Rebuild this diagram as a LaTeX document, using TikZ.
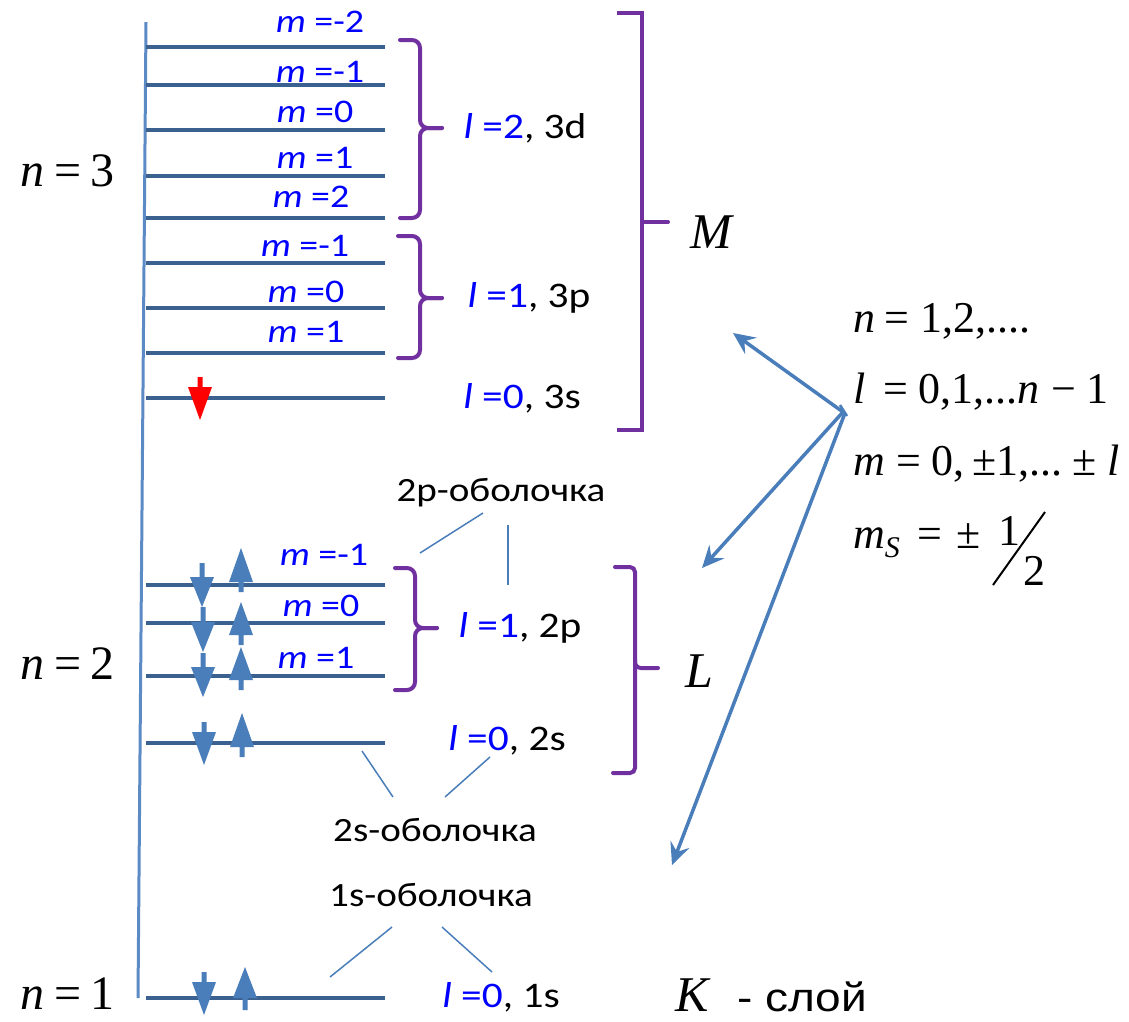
\documentclass[tikz,border=0pt]{standalone}
\usepackage{fontspec}
\setmainfont{Liberation Serif}
\newfontfamily\calfont{Carlito}
\newfontfamily\arialfont{Liberation Sans}
\usetikzlibrary{arrows.meta}
\definecolor{lvlc}{HTML}{3B6190}
\definecolor{axisc}{HTML}{5B8AC4}
\definecolor{spinc}{HTML}{4A7EBB}
\definecolor{conc}{HTML}{4A7EBB}
\definecolor{purp}{HTML}{7030A0}
\definecolor{myblue}{HTML}{0000FF}
\newcommand{\spindown}[5][spinc]{\fill[#1] (#2-2.5,#3) -- (#2+2.5,#3) -- (#2+2.5,#4) -- (#2+12,#4) -- (#2,#5) -- (#2-12,#4) -- (#2-2.5,#4) -- cycle;}
\newcommand{\spinup}[4]{\fill[spinc] (#1-2.5,#2) -- (#1+2.5,#2) -- (#1+2.5,#3) -- (#1+12,#3) -- (#1,#4) -- (#1-12,#3) -- (#1-2.5,#3) -- cycle;}
\newcommand{\cbrace}[6]{% xl, ytop, ybot, xv, xt, ymid
  \draw[bracestyle, rounded corners=8pt] (#1,#2) -- (#4,#2) -- (#4,#6) -- (#5,#6);
  \draw[bracestyle, rounded corners=8pt] (#1,#3) -- (#4,#3) -- (#4,#6) -- (#5,#6);}
\begin{document}
\begin{tikzpicture}[x=1pt,y=-1pt,
  lvl/.style={draw=lvlc, line width=3.5pt},
  bracestyle/.style={draw=purp, line width=4pt, line cap=round},
  conn/.style={draw=conc, line width=1.5pt},
  bigarr/.style={draw=conc, line width=3.5pt, -{Stealth[length=22pt,width=20pt,inset=8pt]}},
  mlab/.style={font=\calfont\fontsize{33}{36}\selectfont, text=myblue, xscale=1.15, inner sep=0pt},
  llab/.style={font=\calfont\fontsize{36}{40}\selectfont, text=black, xscale=1.15, inner sep=0pt},
  shlab/.style={font=\calfont\fontsize{34}{38}\selectfont, text=black, xscale=1.15, inner sep=0pt},
  tlab/.style={font=\fontsize{44}{48}\selectfont, text=black, inner sep=0pt, anchor=base west, text depth=0pt},
  nlab/.style={font=\fontsize{48}{52}\selectfont, text=black, inner sep=0pt, anchor=base west, text depth=0pt},
  biglet/.style={font=\fontsize{50}{54}\selectfont\itshape, text=black, inner sep=0pt, anchor=base west, text depth=0pt},
]
\useasboundingbox (0,0) rectangle (1129,1021);
\fill[white] (0,0) rectangle (1129,1021);

% axis
\draw[draw=axisc, line width=3pt] (146,22) -- (138,998);

% levels
\foreach \y in {47,85,130,176,218,263,308,353,398,585,623,676,743,998}
  \draw[lvl] (146,\y) -- (385,\y);

% m labels
\node[mlab] (m3dA) at (320,22) {{\itshape m} =-2};
\node[mlab] (m3dB) at (320,72) {{\itshape m} =-1};
\node[mlab] (m3dC) at (315,112) {{\itshape m} =0};
\node[mlab] (m3dD) at (315,158) {{\itshape m} =1};
\node[mlab] (m3dE) at (311,197) {{\itshape m} =2};
\node[mlab] (m3pA) at (305,246) {{\itshape m} =-1};
\node[mlab] (m3pB) at (306,292) {{\itshape m} =0};
\node[mlab] (m3pC) at (306,332) {{\itshape m} =1};
\node[mlab] (m2pA) at (324,555) {{\itshape m} =-1};
\node[mlab] (m2pB) at (321,606) {{\itshape m} =0};
\node[mlab] (m2pC) at (316,658) {{\itshape m} =1};

% l labels
\node[llab] (l3d) at (525,128) {\textcolor{myblue}{{\itshape l} =2}, 3d};
\node[llab] (l3p) at (529,298) {\textcolor{myblue}{{\itshape l} =1}, 3p};
\node[llab] (l3s) at (522,398) {\textcolor{myblue}{{\itshape l} =0}, 3s};
\node[llab] (l2p) at (520,628) {\textcolor{myblue}{{\itshape l} =1}, 2p};
\node[llab] (l2s) at (507,740) {\textcolor{myblue}{{\itshape l} =0}, 2s};
\node[llab] (l1s) at (501,997) {\textcolor{myblue}{{\itshape l} =0}, 1s};

% braces
\cbrace{400}{40}{218}{420}{442}{128}
\cbrace{398}{236}{358}{420}{442}{298}
\cbrace{395}{568}{690}{415}{437}{628}
\draw[bracestyle, line cap=butt] (617,13) -- (642,13) -- (642,430) -- (617,430);
\draw[bracestyle] (642,222) -- (668,222);
\draw[bracestyle, rounded corners=5pt] (615,567) -- (635,567) -- (635,773) -- (613,773);
\draw[bracestyle, rounded corners=6pt] (635,660) -- (635,668) -- (658,668);

% shell labels and connectors
\node[shlab] (sh2p) at (501,493) {2p-оболочка};
\node[shlab] (sh2s) at (435,830) {2s-оболочка};
\node[shlab] (sh1s) at (431,895) {1s-оболочка};
\coordinate (c2pa) at (483,513);
\coordinate (c2pb) at (420,553);
\coordinate (c2pc) at (508,525);
\coordinate (c2pd) at (508,585);
\draw[conn] (c2pa) -- (c2pb);
\draw[conn] (c2pc) -- (c2pd);
\coordinate (c2sa) at (362,751);
\coordinate (c2sb) at (393,797);
\coordinate (c2sc) at (490,757);
\coordinate (c2sd) at (445,797);
\draw[conn] (c2sa) -- (c2sb);
\draw[conn] (c2sc) -- (c2sd);
\coordinate (c1sa) at (392,927);
\coordinate (c1sb) at (330,977);
\coordinate (c1sc) at (442,927);
\coordinate (c1sd) at (492,972);
\draw[conn] (c1sa) -- (c1sb);
\draw[conn] (c1sc) -- (c1sd);

% spins
\spindown[red]{200}{377}{387}{420}
\spindown{202}{563}{577}{607}
\spinup{241}{592}{582}{548}
\spindown{203}{607}{622}{652}
\spinup{241}{645}{635}{602}
\spindown{203}{653}{667}{697}
\spinup{241}{690}{680}{647}
\spindown{204}{722}{732}{765}
\spinup{242}{757}{747}{713}
\spindown{204}{972}{982}{1015}
\spinup{245}{1010}{998}{967}

% n labels
\node[nlab] (n3) at (20,186) {\itshape n\upshape\hspace{10pt}=\hspace{9pt}3};
\node[nlab] (n2) at (20,679) {\itshape n\upshape\hspace{10pt}=\hspace{9pt}2};
\node[nlab] (n1) at (20,1009) {\itshape n\upshape\hspace{10pt}=\hspace{9pt}1};

% shell letters
\node[biglet] (M) at (690,248) {M};
\node[biglet] (L) at (685,687) {L};
\node[biglet] (K) at (675,1011) {K};
\node[font=\arialfont\fontsize{40}{44}\selectfont, xscale=1.15, inner sep=0pt, anchor=base west, text depth=0pt] (Kt) at (737,1011) {- слой};

% quantum numbers
\node[tlab] (qn) at (853,332) {\itshape n\upshape\hspace{9pt}=\hspace{11pt}1,2,....};
\node[tlab] (ql) at (853,403) {\itshape l\upshape\hspace{18pt}=\hspace{10pt}0,1,...\itshape n\upshape\hspace{12pt}−\hspace{10pt}1};
\node[tlab] (qm) at (853,475) {\itshape m\upshape\hspace{12pt}=\hspace{10pt}0,\hspace{8pt}±1,...\hspace{10pt}±\hspace{10pt}\itshape l};
\node[tlab] (qs) at (853,548) {\itshape m\upshape\raisebox{-9pt}{\fontsize{30}{30}\selectfont\itshape S}\upshape\hspace{18pt}=\hspace{14pt}±};
\node[tlab] (qs1) at (998,545) {1};
\node[tlab] (qs2) at (1023,585) {2};
\coordinate (sla) at (993,585);
\coordinate (slb) at (1045,512);
\draw[line width=2pt] (sla) -- (slb);

% arrows
\coordinate (src) at (843,412);
\coordinate (tM) at (733,333);
\coordinate (tL) at (702,568);
\coordinate (tK) at (672,865);
\coordinate (src2) at (845,413);
\draw[bigarr] (src) -- (tM);
\draw[bigarr] (src) -- (tL);
\draw[bigarr] (src2) -- (tK);
\coordinate (tka) at (840,405);
\coordinate (tkb) at (847,416);
\draw[draw=conc, line width=2.5pt] (tka) -- (tkb);
\end{tikzpicture}
\end{document}
